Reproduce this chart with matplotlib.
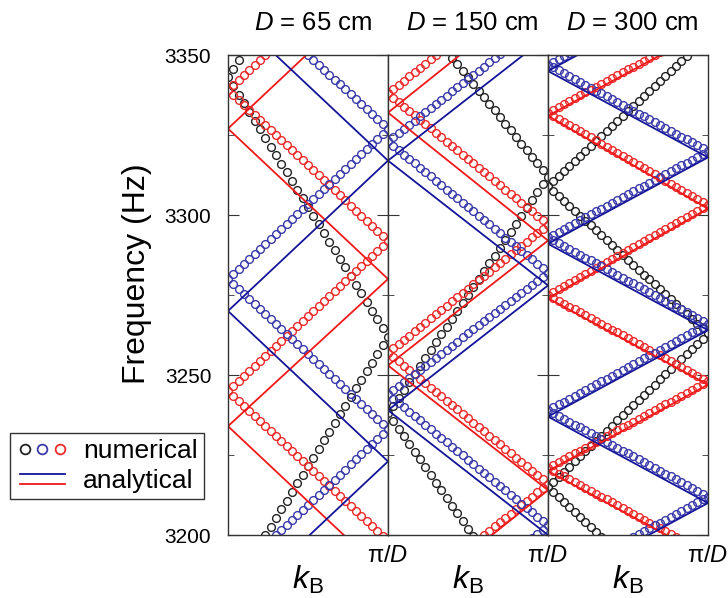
import numpy as np
import matplotlib
matplotlib.use('Agg')
import matplotlib.pyplot as plt
from matplotlib.lines import Line2D
from matplotlib.legend_handler import HandlerBase, HandlerTuple

plt.rcParams['font.family'] = ['Liberation Sans', 'DejaVu Sans']
plt.rcParams['mathtext.fontset'] = 'custom'
plt.rcParams['mathtext.it'] = 'Liberation Sans:italic'
plt.rcParams['mathtext.rm'] = 'Liberation Sans'

titles = ['$D$ = 65 cm', '$D$ = 150 cm', '$D$ = 300 cm']

# zigzag band vertices in Hz: (vertices at k = 0, vertices at k = pi/D)
# D = 65 cm
d65_black_num = ([3343, 3181], [3424, 3262, 3100])
d65_blue_num = ([3373, 3280, 3186], [3327, 3233, 3140])
d65_blue_ana = ([3364, 3270, 3176], [3411, 3317, 3223])
d65_red_num = ([3339, 3245, 3151], [3386, 3292, 3198])
d65_red_ana = ([3327, 3234, 3140], [3374, 3280, 3187])
# D = 150 cm
d150_black_num = ([3374, 3238], [3312, 3166])
d150_blue_num = ([3323, 3244, 3164], [3362, 3282, 3203])
d150_blue_ana = ([3317, 3239, 3161], [3356, 3278, 3200])
d150_red_num = ([3338, 3257, 3176], [3378, 3297, 3216])
d150_red_ana = ([3332, 3253, 3174], [3372, 3292, 3214])
# D = 300 cm
d300_black_num = ([3402, 3309, 3215], [3356, 3263, 3168])
d300_blue_num = ([3347, 3293, 3239, 3185], [3374, 3320, 3266, 3212])
d300_blue_ana = ([3345, 3291, 3237, 3183], [3372, 3318, 3264, 3210])
d300_red_num = ([3332, 3275, 3221, 3166], [3359, 3303, 3248, 3194])
d300_red_ana = ([3331, 3274, 3220, 3165], [3358, 3302, 3247, 3193])

panels = [
    (d65_black_num, d65_blue_num, d65_blue_ana, d65_red_num, d65_red_ana),
    (d150_black_num, d150_blue_num, d150_blue_ana, d150_red_num, d150_red_ana),
    (d300_black_num, d300_blue_num, d300_blue_ana, d300_red_num, d300_red_ana),
]

n_per_seg = 30  # numerical k points per half zone

c_black = '#222222'
c_blue_pt = '#3a3aaa'
c_blue_ln = '#14149a'
c_red_pt = '#ec2a2a'
c_red_ln = '#f01818'


def zigzag(band):
    left, right = band
    verts = sorted([(f, 0.0) for f in left] + [(f, 1.0) for f in right], reverse=True)
    f = np.array([v[0] for v in verts], dtype=float)
    k = np.array([v[1] for v in verts])
    return k, f


def sampled(band):
    k, f = zigzag(band)
    ks, fs = [], []
    t = np.linspace(0, 1, n_per_seg + 1)[:-1]
    for i in range(len(k) - 1):
        ks.append(k[i] + (k[i + 1] - k[i]) * t)
        fs.append(f[i] + (f[i + 1] - f[i]) * t)
    ks.append([k[-1]])
    fs.append([f[-1]])
    return np.concatenate(ks), np.concatenate(fs)


fig = plt.figure(figsize=(7.28, 5.98), dpi=100)
W, H = 728, 598
lefts = [228, 388, 548]
axes = []
for i, (title, bands) in enumerate(zip(titles, panels)):
    ax = fig.add_axes([lefts[i] / W, (H - 535) / H, 160 / W, 480 / H])
    black_num, blue_num, blue_ana, red_num, red_ana = bands
    for band, col in [(black_num, c_black), (red_num, c_red_pt), (blue_num, c_blue_pt)]:
        k, f = sampled(band)
        ax.plot(k, f, 'o', ms=5.6, mfc='none', mec=col, mew=1.0)
    for band, col in [(red_ana, c_red_ln), (blue_ana, c_blue_ln)]:
        k, f = zigzag(band)
        ax.plot(k, f, '-', color=col, lw=1.3)
    ax.set_xlim(0, 1)
    ax.set_ylim(3200, 3350)
    ax.set_yticks([3200, 3250, 3300, 3350])
    ax.set_yticks([3225, 3275, 3325], minor=True)
    ax.set_xticks([1])
    ax.set_xticklabels(['π/$D$'], fontsize=17)
    ax.tick_params(axis='x', length=0, pad=7)
    ax.tick_params(axis='y', which='both', direction='in', left=True, right=True,
                   labelsize=15, pad=12, color='#333333')
    ax.tick_params(axis='y', which='major', length=8)
    ax.tick_params(axis='y', which='minor', length=4)
    if i > 0:
        ax.tick_params(axis='y', labelleft=False)
    for sp in ax.spines.values():
        sp.set_color('#333333')
        sp.set_linewidth(1.0)
    ax.set_xlabel('$k_\\mathrm{B}$', fontsize=23, labelpad=-2)
    ax.set_title(title, fontsize=18.5, pad=18, x=0.53)
    axes.append(ax)

axes[0].set_ylabel('Frequency (Hz)', fontsize=23)
axes[0].yaxis.set_label_coords(-0.475, 0.545)


class TwoLines(HandlerBase):
    def create_artists(self, legend, orig_handle, xdescent, ydescent,
                       width, height, fontsize, trans):
        arts = []
        yc = (height - ydescent) / 2.0
        for j, ln in enumerate(orig_handle):
            y = yc + 0.2 * fontsize * (1 - 2 * j)
            a = Line2D([-xdescent + 0.15 * fontsize, width - xdescent - 0.15 * fontsize], [y, y],
                       color=ln.get_color(), lw=ln.get_linewidth(), transform=trans)
            arts.append(a)
        return arts


h_pts = (Line2D([], [], ls='none', marker='o', ms=7, mfc='none', mec=c_black, mew=1.3),
         Line2D([], [], ls='none', marker='o', ms=7, mfc='none', mec=c_blue_pt, mew=1.3),
         Line2D([], [], ls='none', marker='o', ms=7, mfc='none', mec=c_red_pt, mew=1.3))
h_lns = (Line2D([], [], color=c_blue_ln, lw=1.3), Line2D([], [], color=c_red_ln, lw=1.3))

leg = fig.legend([h_pts, h_lns], ['numerical', 'analytical'],
                 handler_map={h_pts: HandlerTuple(ndivide=None, pad=0.0), h_lns: TwoLines()},
                 loc='upper left', bbox_to_anchor=(10 / W, 1 - 433 / H),
                 bbox_transform=fig.transFigure, borderaxespad=0, fontsize=19,
                 frameon=True, fancybox=False, edgecolor='#333333', framealpha=1,
                 handlelength=2.0, handletextpad=0.55, labelspacing=0.25, borderpad=0.22)
leg.get_frame().set_linewidth(1.0)

fig.savefig('out.png', dpi=100)
